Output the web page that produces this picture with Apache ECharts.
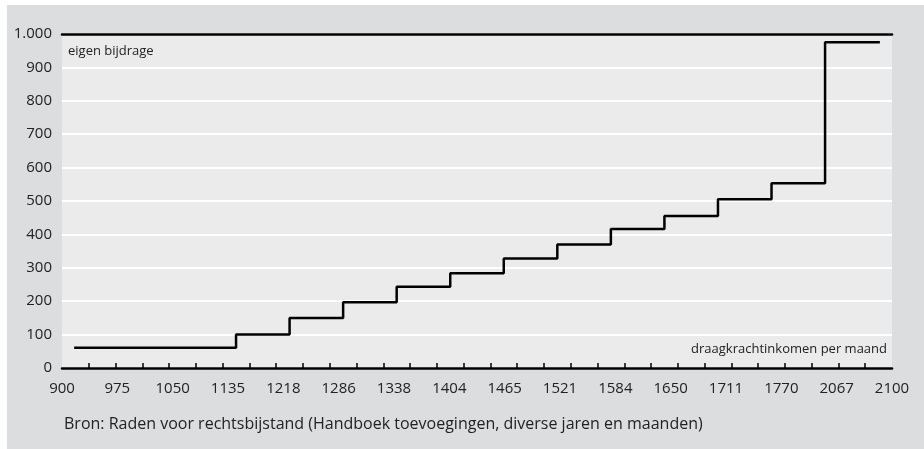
<!DOCTYPE html>
<html>
<head>
<meta charset="utf-8">
<script src="https://cdn.jsdelivr.net/npm/echarts@6/dist/echarts.min.js"></script>
<style>
  html, body { margin: 0; padding: 0; background: #fff; }
  #chart { width: 924px; height: 449px; }
</style>
</head>
<body>
<div id="chart"></div>
<script>
	// inkomensgrenzen onder de as
	var incomeLabels = ['900', '975', '1050', '1135', '1218', '1286', '1338', '1404', '1465', '1521', '1584', '1650', '1711', '1770', '2067', '2100'];
	// treden: positie op de streepjesschaal (0..31) en eigen bijdrage
	var stepPos = [0.5, 6.5, 8.5, 10.5, 12.5, 14.5, 16.5, 18.5, 20.5, 22.5, 24.5, 26.5, 28.5, 30.5];
	var stepValues = [61, 100, 150, 197, 243, 284, 328, 370, 416, 455, 505, 553, 975, 975];
	var tickValues = [1, 2, 3, 4, 5, 6, 7, 8, 9, 10, 11, 12, 13, 14, 15, 16, 17, 18, 19, 20, 21, 22, 23, 24, 25, 26, 27, 28, 29, 30];

	var font = '"Open Sans", sans-serif';
	var stepData = [];
	for (var i = 0; i < stepPos.length; i++) {
		stepData.push([stepPos[i], stepValues[i]]);
	}

	var chart = echarts.init(document.getElementById('chart'));
	chart.setOption({
		backgroundColor: '#ffffff',
		animation: false,
		graphic: [
			{ type: 'rect', z: -10, shape: { x: 7, y: 5, width: 917, height: 444 }, style: { fill: '#dcdddf' } },
			{ type: 'text', left: 68, top: 45, style: { text: 'eigen bijdrage', font: '13px ' + font, fill: '#222' } },
			{ type: 'text', right: 37, top: 343, style: { text: 'draagkrachtinkomen per maand', font: '13px ' + font, fill: '#222' } },
			{ type: 'text', left: 64, top: 416, style: { text: 'Bron: Raden voor rechtsbijstand (Handboek toevoegingen, diverse jaren en maanden)', font: '16px ' + font, fill: '#222' } }
		],
		grid: {
			left: 62, right: 32, top: 34, bottom: 81,
			show: true, backgroundColor: '#ebebeb', borderWidth: 0
		},
		xAxis: [
			{
				type: 'value', min: 0, max: 31, position: 'bottom',
				axisLine: { show: true, lineStyle: { color: '#000', width: 2.5 } },
				axisTick: { show: true, inside: true, length: 5, customValues: tickValues, lineStyle: { color: '#000', width: 1.5 } },
				axisLabel: { show: false },
				splitLine: { show: false }
			},
			{
				type: 'category', data: incomeLabels, boundaryGap: false, position: 'bottom',
				axisLine: { show: false },
				axisTick: { show: false },
				axisLabel: { show: true, margin: 13, color: '#222', fontSize: 15, fontFamily: font, interval: 0 },
				splitLine: { show: false }
			},
			{
				type: 'value', min: 0, max: 31, position: 'top',
				axisLine: { show: true, lineStyle: { color: '#000', width: 2.5 } },
				axisTick: { show: false },
				axisLabel: { show: false },
				splitLine: { show: false }
			}
		],
		yAxis: {
			type: 'value', min: 0, max: 1000, interval: 100,
			axisLine: { show: false },
			axisTick: { show: false },
			axisLabel: {
				margin: 10, color: '#222', fontSize: 15, fontFamily: font,
				formatter: function (v) { return v === 1000 ? '1.000' : String(v); }
			},
			splitLine: { show: true, lineStyle: { color: '#ffffff', width: 2 } }
		},
		series: [{
			type: 'line',
			xAxisIndex: 0,
			step: 'end',
			data: stepData,
			showSymbol: false,
			symbol: 'none',
			lineStyle: { color: '#000', width: 2.5, cap: 'square' },
			z: 5
		}]
	});
</script>
</body>
</html>
